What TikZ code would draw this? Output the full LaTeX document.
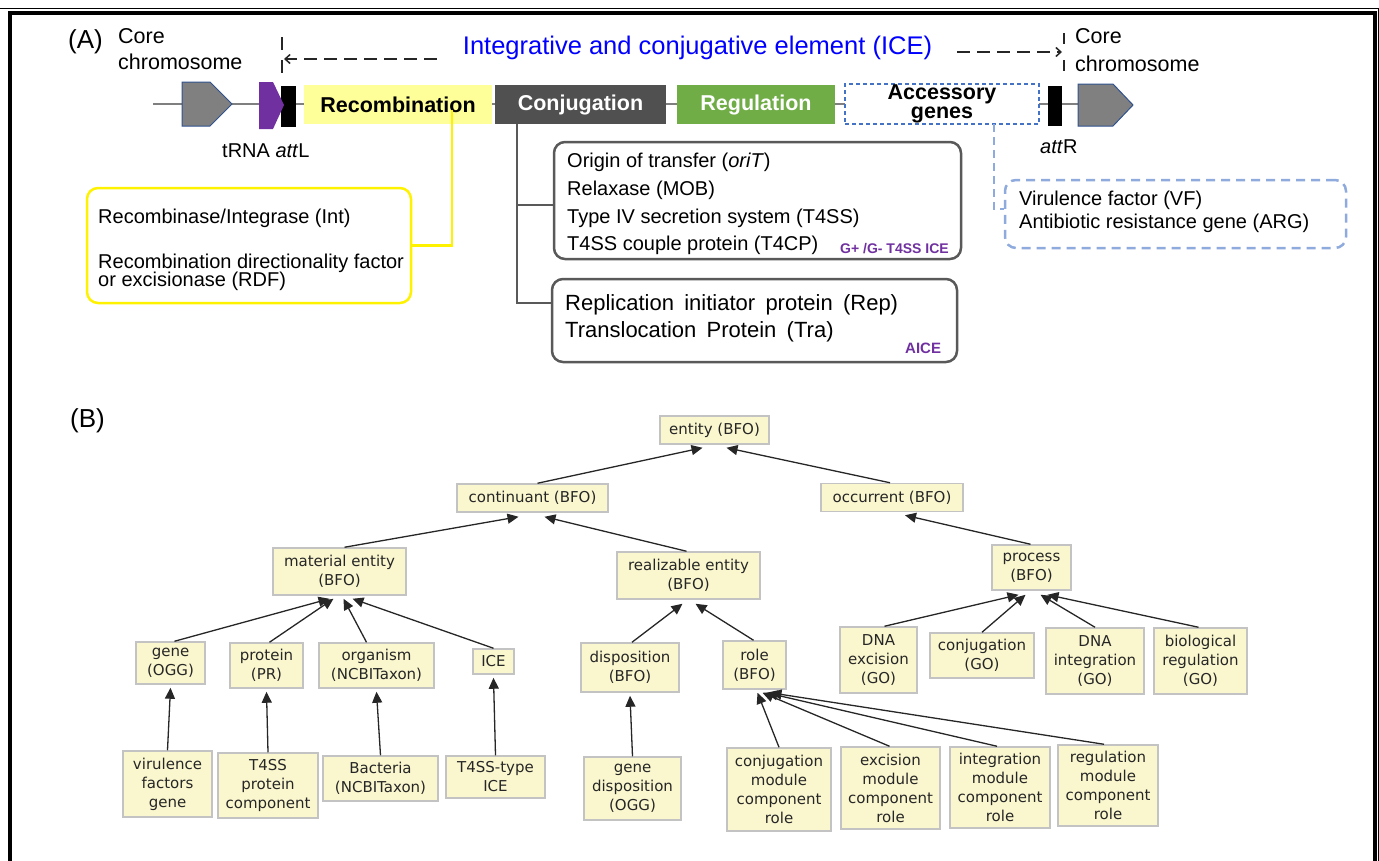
\documentclass[tikz,border=0pt]{standalone}
\usepackage{fontspec}
\setmainfont{Liberation Sans}
\newfontfamily\vfont{DejaVu Sans}
\usetikzlibrary{arrows.meta}
\newcommand\fsz[1]{\fontsize{#1pt}{#1pt}\selectfont}
\definecolor{recy}{RGB}{255,255,153}
\definecolor{conjg}{RGB}{80,80,80}
\definecolor{regg}{RGB}{112,173,71}
\definecolor{accb}{RGB}{68,114,196}
\definecolor{accl}{RGB}{143,170,220}
\definecolor{purp}{RGB}{112,48,160}
\definecolor{pent}{RGB}{128,128,128}
\definecolor{pentb}{RGB}{47,82,143}
\definecolor{trk}{RGB}{127,127,127}
\definecolor{bfill}{RGB}{250,247,207}
\definecolor{bdraw}{RGB}{195,195,195}
\definecolor{gline}{RGB}{89,89,89}
\newcommand\bn[6]{\node[bnode,minimum width=#4,minimum height=#5] (#1) at (#2,#3) {#6};}
\begin{document}
\begin{tikzpicture}[x=1pt,y=-1pt,
  txt/.style={inner sep=0pt,anchor=base west},
  seg/.style={minimum height=39,inner sep=0pt,font=\fsz{21.5}\bfseries},
  rbox/.style={rounded corners=11pt,line width=2.5pt,inner sep=0pt},
  dsh/.style={line width=1.5pt,black!85,dash pattern=on 13pt off 7pt},
  bnode/.style={draw=bdraw,fill=bfill,line width=1.5pt,inner sep=0pt,align=center,font=\vfont\fontsize{15pt}{19pt}\selectfont,text=black!85},
  barr/.style={line width=1.3pt,black!85,-{Triangle[length=11pt,width=10pt]}}]
\useasboundingbox (0,0) rectangle (1379,860);
% frame
\draw[line width=0.8pt] (0,8) -- (1379,8);
\draw[line width=3.5pt] (10,880) -- (10,13) -- (1375,13) -- (1375,880);
\draw[line width=0.8pt] (1378.5,8) -- (1378.5,880);
% ---------------- (A)
\node[txt,font=\fsz{26}] (labA) at (68,48) {(A)};
\node[txt,font=\fsz{21.5}] (corel1) at (118,43) {Core};
\node[txt,font=\fsz{21.5}] (corel2) at (118,69) {chromosome};
\node[txt,font=\fsz{21.5}] (corer1) at (1075,43) {Core};
\node[txt,font=\fsz{21.5}] (corer2) at (1075,71) {chromosome};
\node[inner sep=0pt,anchor=base,font=\fsz{25.5},text=blue] (title) at (697.5,54) {Integrative and conjugative element (ICE)};
% dashed markers
\coordinate (lv1) at (282,37); \coordinate (lv2) at (282,75);
\draw[dsh,dash pattern=on 13pt off 10pt] (lv1) -- (lv2);
\coordinate (la1) at (437,59); \coordinate (la2) at (284,59);
\draw[dsh,-{Straight Barb[length=5pt,width=9pt]}] (la1) -- (la2);
\coordinate (rv1) at (1064,33); \coordinate (rv2) at (1064,72);
\draw[dsh,dash pattern=on 11pt off 16pt] (rv1) -- (rv2);
\coordinate (ra1) at (957,52); \coordinate (ra2) at (1062,52);
\draw[dsh,-{Straight Barb[length=5pt,width=9pt]}] (ra1) -- (ra2);
% track
\coordinate (tl) at (153,104); \coordinate (tr) at (1080,104);
\draw[trk,line width=2pt] (tl) -- (tr);
\filldraw[fill=pent,draw=pentb,line width=1pt] (182,82) -- (210,82) -- (232,104) -- (210,126) -- (182,126) -- cycle;
\filldraw[fill=pent,draw=pentb,line width=1pt] (1078,84) -- (1113,84) -- (1133,105) -- (1113,126) -- (1078,126) -- cycle;
\fill (281,86) rectangle (296,127);
\fill (1048,86) rectangle (1062,126);
\fill[purp] (259,82) -- (273,82) -- (284,105) -- (273,129) -- (259,129) -- cycle;
\node[txt,font=\fsz{20}] (trna) at (222,157) {tRNA \textit{att}L};
\node[txt,font=\fsz{20}] (attr) at (1040,153) {\textit{att}R};
% segments
\node[seg,fill=recy,minimum width=188] (rec) at (398,104.5) {Recombination};
\node[seg,fill=conjg,text=white,minimum width=171] (conj) at (580.5,104.5) {Conjugation};
\node[seg,fill=regg,text=white,minimum width=158] (reg) at (756,104.5) {Regulation};
\node[seg,draw=accb,dash pattern=on 4pt off 3pt,line width=1.2pt,fill=white,minimum width=194,minimum height=40,align=center,font=\fontsize{21.5pt}{19pt}\selectfont\bfseries] (acc) at (942,104) {Accessory\\genes};
% recombination box
\node[rbox,draw=yellow,minimum width=324,minimum height=115] (ybox) at (249,245.5) {};
\node[txt,font=\fsz{20}] (y1) at (98,223) {Recombinase/Integrase (Int)};
\node[txt,font=\fsz{20}] (y2) at (98,268) {Recombination directionality factor};
\node[txt,font=\fsz{20}] (y3) at (98,286) {or excisionase (RDF)};
\coordinate (yst) at (452,110);
\draw[yellow,line width=2.5pt] (yst) |- (ybox.east);
% conjugation boxes
\node[rbox,draw=gline,minimum width=407,minimum height=117] (b1) at (757.5,200.5) {};
\node[txt,font=\fsz{20}] (c1) at (567,167) {Origin of transfer (\textit{oriT})};
\node[txt,font=\fsz{20}] (c2) at (567,195) {Relaxase (MOB)};
\node[txt,font=\fsz{20}] (c3) at (567,223) {Type IV secretion system (T4SS)};
\node[txt,font=\fsz{20}] (c4) at (567,250) {T4SS couple protein (T4CP)};
\node[txt,font=\fsz{14}\bfseries,text=purp] (g1) at (840,253) {G+ /G- T4SS ICE};
\node[rbox,draw=gline,minimum width=405,minimum height=83] (b2) at (754.5,320.5) {};
\node[txt,font=\fsz{22}] (r1) at (565,310) {\spaceskip=10.3pt Replication initiator protein (Rep)};
\node[txt,font=\fsz{22}] (r2) at (565,337) {\spaceskip=10.3pt Translocation Protein (Tra)};
\node[txt,font=\fsz{15}\bfseries,text=purp] (g2) at (905,353) {AICE};
\coordinate (cc1) at (517,205); \coordinate (cc2) at (517,303);
\draw[gline,line width=2pt] (cc1 |- conj.south) -- (cc2) -- (cc2 -| b2.west);
\draw[gline,line width=2pt] (cc1) -- (cc1 -| b1.west);
% accessory box
\node[rbox,draw=accl,dash pattern=on 9pt off 6pt,minimum width=341,minimum height=68] (accbox) at (1175.5,214) {};
\node[txt,font=\fsz{20}] (a1) at (1019,205) {Virulence factor (VF)};
\node[txt,font=\fsz{20}] (a2) at (1019,228) {Antibiotic resistance gene (ARG)};
\coordinate (ac0) at (994,124); \coordinate (ac1) at (994,209);
\draw[accl,line width=2.5pt,dash pattern=on 8pt off 5pt] (ac0) -- (ac1) -- (ac1 -| accbox.west);
% ---------------- (B)
\node[txt,font=\fsz{26}] (labB) at (70,427) {(B)};
\bn{entity}{714.5}{430}{109}{28}{entity (BFO)}
\bn{cont}{532.5}{498}{151}{28}{continuant (BFO)}
\bn{occ}{892}{497.5}{142}{28}{occurrent (BFO)}
\bn{mat}{339.5}{571.5}{133}{47}{material entity\\(BFO)}
\bn{real}{688.5}{575.5}{143}{47}{realizable entity\\(BFO)}
\bn{proc}{1031.5}{567.5}{79}{45}{process\\(BFO)}
\bn{gene}{170.5}{663}{69}{42}{gene\\(OGG)}
\bn{prot}{266.5}{665.5}{73}{45}{protein\\(PR)}
\bn{org}{376.5}{665.5}{115}{45}{organism\\(NCBITaxon)}
\bn{ice}{493.5}{661.5}{41}{25}{ICE}
\bn{disp}{630}{667.5}{98}{49}{disposition\\(BFO)}
\bn{role}{754.5}{665}{63}{48}{role\\(BFO)}
\bn{dnaexc}{878.5}{660}{77}{66}{DNA\\excision\\(GO)}
\bn{conjgo}{982}{655.5}{104}{45}{conjugation\\(GO)}
\bn{dnaint}{1095}{661}{98}{66}{DNA\\integration\\(GO)}
\bn{bioreg}{1200.5}{661}{93}{66}{biological\\regulation\\(GO)}
\bn{vir}{167.5}{784}{89}{66}{virulence\\factors\\gene}
\bn{tprot}{268}{785.5}{100}{65}{T4SS\\protein\\component}
\bn{bact}{380.5}{778.5}{115}{45}{Bacteria\\(NCBITaxon)}
\bn{tice}{495.5}{777}{99}{42}{T4SS-type\\ICE}
\bn{gdisp}{632.5}{788.5}{97}{63}{gene\\disposition\\(OGG)}
\bn{cmod}{779}{789.5}{104}{83}{conjugation\\module\\component\\role}
\bn{emod}{890.5}{788}{99}{82}{excision\\module\\component\\role}
\bn{imod}{1000}{787.5}{100}{81}{integration\\module\\component\\role}
\bn{rmod}{1108}{785.5}{100}{81}{regulation\\module\\component\\role}
% arrows
\draw[barr] ([xshift=5]cont.north) -- ([xshift=-12,yshift=-3]entity.south);
\draw[barr] ([xshift=-2]occ.north) -- ([xshift=12,yshift=-3]entity.south);
\draw[barr] ([xshift=5]mat.north) -- ([xshift=-14,yshift=-4]cont.south);
\draw[barr] ([xshift=-2]real.north) -- ([xshift=12,yshift=-4]cont.south);
\draw[barr] ([xshift=-1]proc.north) -- ([xshift=13,yshift=-3]occ.south);
\draw[barr] ([xshift=4]gene.north) -- ([xshift=-10,yshift=-3]mat.south);
\draw[barr] ([xshift=3]prot.north) -- ([xshift=-6,yshift=-3]mat.south);
\draw[barr] ([xshift=-10]org.north) -- ([xshift=4,yshift=-3]mat.south);
\draw[barr] (ice.north) -- ([xshift=13,yshift=-3]mat.south);
\draw[barr] ([xshift=2]disp.north) -- ([xshift=-6,yshift=-4]real.south);
\draw[barr] ([xshift=-1]role.north) -- ([xshift=7,yshift=-4]real.south);
\draw[barr] ([xshift=6]dnaexc.north) -- ([xshift=-13,yshift=-4]proc.south);
\draw[barr] (conjgo.north) -- ([xshift=-6,yshift=-4]proc.south);
\draw[barr] (dnaint.north) -- ([xshift=9,yshift=-4]proc.south);
\draw[barr] ([xshift=-2]bioreg.north) -- ([xshift=16,yshift=-4]proc.south);
\draw[barr] (vir.north) -- ([yshift=-3]gene.south);
\draw[barr] (tprot.north) -- ([yshift=-3]prot.south);
\draw[barr] (bact.north) -- ([yshift=-3]org.south);
\draw[barr] (tice.north) -- ([yshift=-3]ice.south);
\draw[barr] (gdisp.north) -- ([yshift=-3]disp.south);
\draw[barr] (cmod.north) -- ([xshift=3,yshift=-3]role.south);
\draw[barr] ([xshift=-1]emod.north) -- ([xshift=8,yshift=-3]role.south);
\draw[barr] ([xshift=-3]imod.north) -- ([xshift=12,yshift=-3]role.south);
\draw[barr] ([xshift=-4]rmod.north) -- ([xshift=16,yshift=-3]role.south);
\end{tikzpicture}
\end{document}
